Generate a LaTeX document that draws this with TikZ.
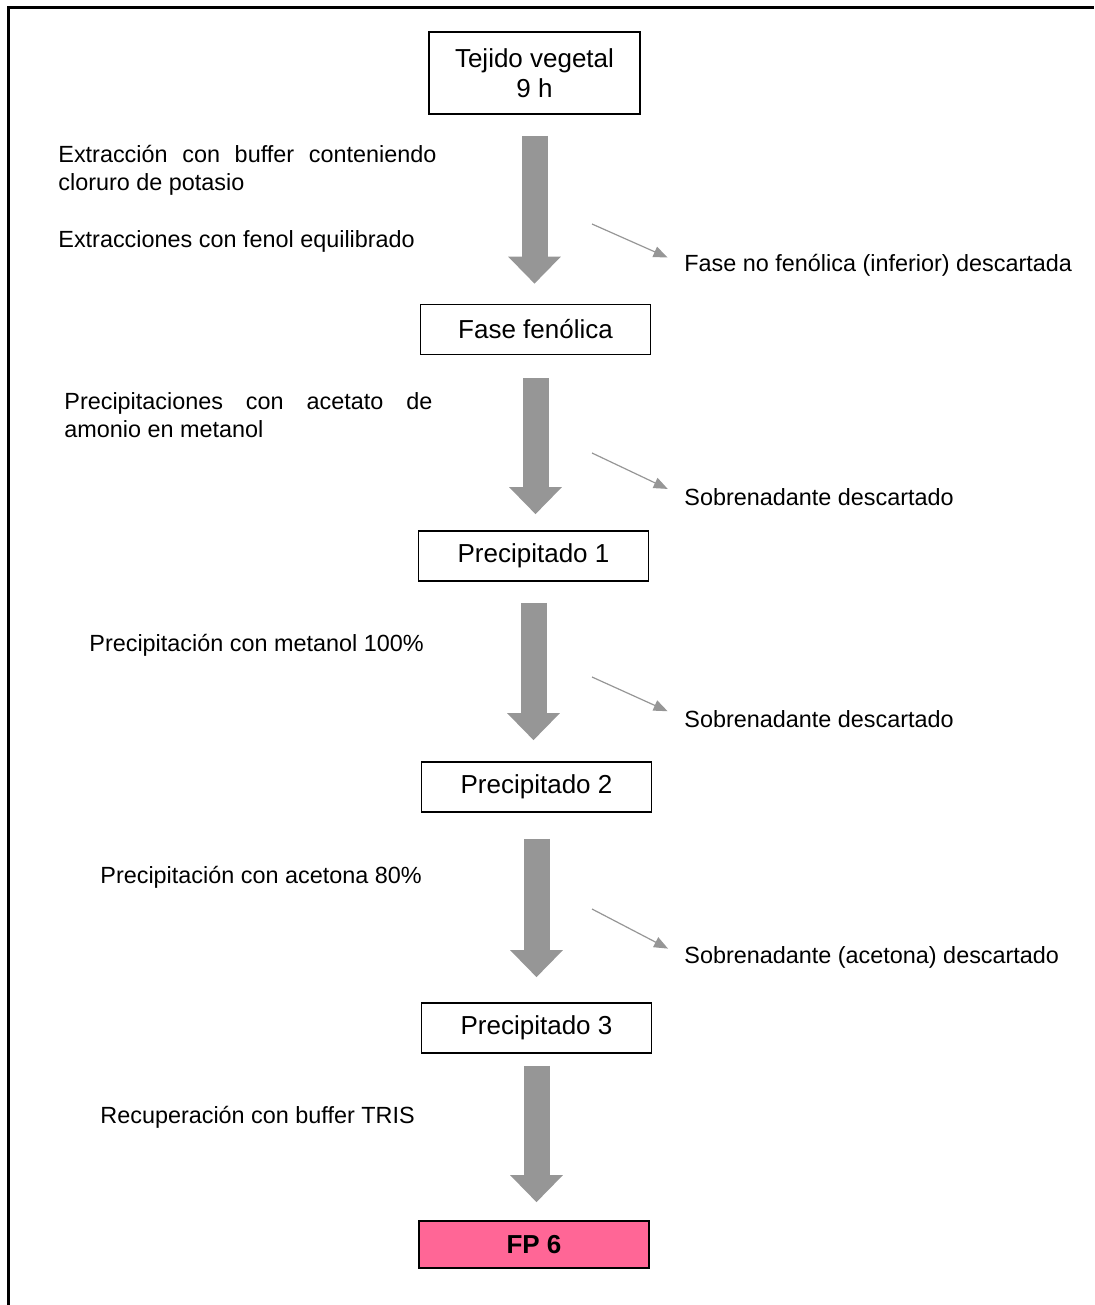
\documentclass[tikz,border=0pt]{standalone}
\usepackage{fontspec}
\setmainfont{Liberation Sans}
\usetikzlibrary{arrows.meta}
\definecolor{flechagris}{RGB}{150,150,150}
\definecolor{rosa}{RGB}{255,102,150}
\begin{document}
\begin{tikzpicture}[x=0.5pt,y=-0.5pt,
    caja/.style={draw,line width=0.8pt,minimum width=115pt,minimum height=25pt,inner sep=0pt,font=\fontsize{13}{15}\selectfont},
    texto/.style={anchor=base west,inner sep=0pt,align=left,font=\fontsize{11.7}{14}\selectfont},
    flecha/.style={draw=flechagris,line width=13pt,-{Triangle[width=25.5pt,length=13.5pt]}},
    flechita/.style={draw=flechagris,line width=0.6pt,-{Triangle[width=5.5pt,length=7pt]},shorten >=9pt}]

        \useasboundingbox (0,0) rectangle (1094,1305);
        \draw[line width=1.5pt] (8,1305) -- (8,8) -- (1094,8);

        % cajas
        \node[caja,minimum width=105.5pt,minimum height=41pt,align=center] (tejido) at (534.5,73) {Tejido vegetal\\9 h};
        \node[caja] (fase) at (535.5,329.5) {Fase fenólica};
        \node[caja] (prec1) at (533.5,556) {Precipitado 1};
        \node[caja] (prec2) at (536.5,787) {Precipitado 2};
        \node[caja] (prec3) at (536.5,1028) {Precipitado 3};
        \node[caja,fill=rosa,minimum height=23.5pt,font=\fontsize{13}{15}\selectfont\bfseries] (fp) at (534,1244.5) {FP 6};

        % pasos (base = ultima linea)
        \node[texto] (ext1) at (58,191) {\makebox[189pt][s]{Extracción con buffer conteniendo}\\cloruro de potasio};
        \node[texto] (ext2) at (58,248) {Extracciones con fenol equilibrado};
        \node[texto] (pre1) at (64,437) {\makebox[184pt][s]{Precipitaciones con acetato de}\\amonio en metanol};
        \node[texto] (pre2) at (89,651) {Precipitación con metanol 100\%};
        \node[texto] (pre3) at (100,883) {Precipitación con acetona 80\%};
        \node[texto] (rec) at (100,1123) {Recuperación con buffer TRIS};

        % descartes
        \node[texto] (desc1) at (684,271) {Fase no fenólica (inferior) descartada};
        \node[texto] (desc2) at (684,505) {Sobrenadante descartado};
        \node[texto] (desc3) at (684,727) {Sobrenadante descartado};
        \node[texto] (desc4) at (684,963) {Sobrenadante (acetona) descartado};

        \coordinate (d1) at (592,224);
        \coordinate (d2) at (592,453);
        \coordinate (d3) at (592,677);
        \coordinate (d4) at (592,909);

        \draw[flecha,shorten <=10.5pt,shorten >=10pt] (tejido.south) -- (tejido.south |- fase.north);
        \draw[flecha,shorten <=11.5pt,shorten >=8pt] (fase.south) -- (fase.south |- prec1.north);
        \draw[flecha,shorten <=10.5pt,shorten >=10.5pt] (prec1.south) -- (prec1.south |- prec2.north);
        \draw[flecha,shorten <=13pt,shorten >=12.5pt] (prec2.south) -- (prec2.south |- prec3.north);
        \draw[flecha,shorten <=6pt,shorten >=9pt] (prec3.south) -- (prec3.south |- fp.north);

        \draw[flechita] (d1) -- (desc1.west);
        \draw[flechita] (d2) -- (desc2.west);
        \draw[flechita] (d3) -- (desc3.west);
        \draw[flechita] (d4) -- (desc4.west);

      \end{tikzpicture}
\end{document}
